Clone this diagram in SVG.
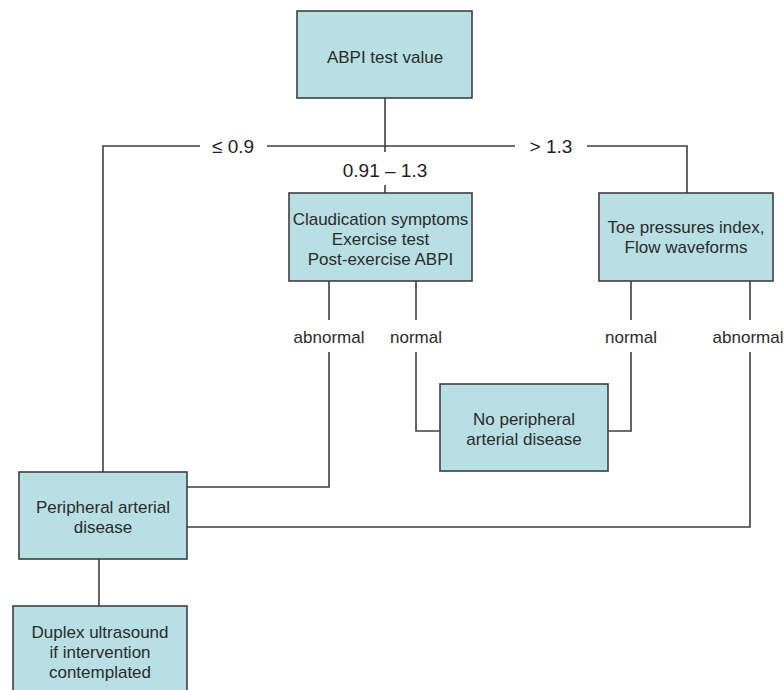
<svg xmlns="http://www.w3.org/2000/svg" width="784" height="690" viewBox="0 0 784 690">
<style>
.box{fill:#b8dfe3;stroke:#3f3f3f;stroke-width:1.6}
.t{font-family:"Liberation Sans",Arial,sans-serif;font-size:17px;fill:#2b2b2b;text-anchor:middle}
.lb{font-family:"Liberation Sans",Arial,sans-serif;font-size:19px;fill:#1e1e1e;text-anchor:middle}
.ln{fill:none;stroke:#3f3f3f;stroke-width:1.6}
</style>
<rect width="784" height="690" fill="#ffffff"/>
<g id="connectors">
<path class="ln" d="M385 98 V152 M385 185 V193"/>
<path class="ln" d="M200 146 H103 V472 M267 146 H515 M587 146 H687 V193"/>
<path class="ln" d="M329 281 V320 M329 352 V487 H187"/>
<path class="ln" d="M416 281 V320 M416 352 V431 H440"/>
<path class="ln" d="M631 281 V320 M631 352 V431 H608"/>
<path class="ln" d="M750 281 V320 M750 352 V527 H187"/>
<path class="ln" d="M99 559 V606"/>
</g>
<g id="labels">
<text class="lb" x="233" y="153">≤ 0.9</text>
<text class="lb" x="385" y="177">0.91 – 1.3</text>
<text class="lb" x="551" y="153">&gt; 1.3</text>
<text class="t" x="329" y="343">abnormal</text>
<text class="t" x="416" y="343">normal</text>
<text class="t" x="631" y="343">normal</text>
<text class="t" x="748" y="343">abnormal</text>
</g>
<g id="abpi">
<rect class="box" x="297" y="11" width="175" height="87"/>
<text class="t" x="385" y="63">ABPI test value</text>
</g>
<g id="claudication">
<rect class="box" x="289" y="193" width="183" height="88"/>
<text class="t" x="380.5" y="225">Claudication symptoms</text>
<text class="t" x="380.5" y="245">Exercise test</text>
<text class="t" x="380.5" y="265">Post-exercise ABPI</text>
</g>
<g id="toe">
<rect class="box" x="599" y="193" width="174" height="88"/>
<text class="t" x="686" y="233">Toe pressures index,</text>
<text class="t" x="686" y="253">Flow waveforms</text>
</g>
<g id="nopad">
<rect class="box" x="440" y="384" width="168" height="87"/>
<text class="t" x="524" y="425">No peripheral</text>
<text class="t" x="524" y="445">arterial disease</text>
</g>
<g id="pad">
<rect class="box" x="19" y="472" width="168" height="87"/>
<text class="t" x="103" y="513">Peripheral arterial</text>
<text class="t" x="103" y="533">disease</text>
</g>
<g id="duplex">
<rect class="box" x="13" y="606" width="174" height="90"/>
<text class="t" x="100" y="638">Duplex ultrasound</text>
<text class="t" x="100" y="658">if intervention</text>
<text class="t" x="100" y="678">contemplated</text>
</g>
</svg>
